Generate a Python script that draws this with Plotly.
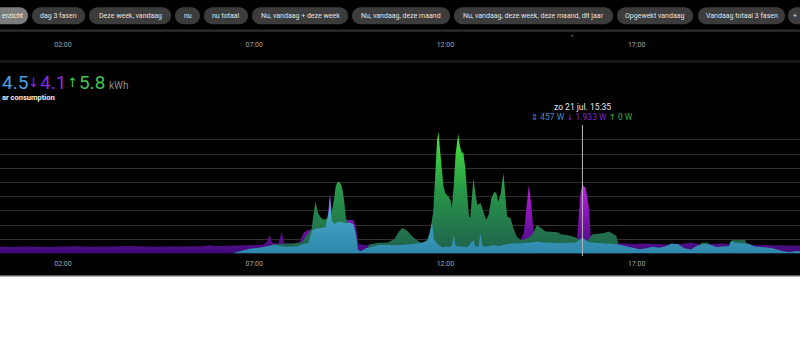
import plotly.graph_objects as go

W, H = 800, 364
DATE = "2024-07-21 "

# ---------------- data (W) ----------------
import_times = ["00:20","00:40","01:00","01:20","01:40","02:00","02:20","02:40","03:00","03:20","03:40","04:00",
                "04:20","04:40","05:00","05:20","05:40","05:50","06:00","06:20","06:40","07:00","07:15","07:20",
                "07:24","07:28","07:38","07:43","07:47","07:57","08:10","08:18","08:25","08:35","08:45","08:55",
                "08:59","09:03","09:15","09:22","09:28","09:36","09:40","09:44","09:55","10:10","10:25","10:35",
                "10:45","13:55","13:58","14:03","14:07","14:11","14:15","14:18","14:22","14:26","15:25","15:29",
                "15:32","15:35","15:40","15:45","15:48","15:51","16:00","16:35","16:55","17:10","17:30","17:50",
                "18:10","18:25","18:40","19:00","19:15","19:30","19:50","20:10","20:30","20:50","21:10","21:20"]
import_w = [195,185,200,190,180,195,205,190,185,200,210,195,
            190,200,195,190,205,235,210,215,225,240,250,330,
            520,300,280,600,300,270,280,600,660,670,700,1000,
            1680,900,880,930,950,940,700,260,240,245,230,150,
            0,0,380,577,1366,1930,1300,660,300,0,0,944,
            1704,1933,1850,1310,500,250,240,290,270,280,260,250,
            270,300,260,270,280,250,240,250,230,230,220,225]

export_times = ["06:50","07:15","07:30","07:45","08:00","08:15","08:30","08:36","08:40","08:45","08:50","08:55",
                "09:00","09:05","09:08","09:11","09:15","09:18","09:21","09:24","09:28","09:35","09:45","09:55",
                "10:00","10:15","10:30","10:40","10:47","10:53","11:00","11:08","11:15","11:22","11:30","11:36",
                "11:41","11:44","11:47","11:49","11:51","11:54","11:57","12:00","12:05","12:08","12:10","12:13",
                "12:16","12:20","12:23","12:26","12:28","12:31","12:34","12:37","12:39","12:42","12:44","12:47",
                "12:50","12:55","13:00","13:04","13:08","13:12","13:17","13:20","13:23","13:27","13:31","13:34",
                "13:37","13:42","13:47","13:52","13:58","14:05","14:15","14:24","14:30","14:37","14:45","14:56",
                "15:01","15:08","15:16","15:24","15:29","15:40","15:51","16:00","16:10","16:16","16:22","16:28",
                "16:32","16:40","18:35","18:41","18:52","19:00","19:26","19:30","19:40","19:50","20:00"]
export_w = [0,0,260,270,280,320,700,1459,1150,1000,950,1000,
            1000,1500,1900,2023,1990,1850,1500,1000,800,400,0,0,
            250,300,310,400,620,720,640,480,380,300,350,600,
            1200,2200,3200,3431,3000,2300,1882,1700,1600,1500,1282,1900,
            2800,3366,3000,2831,2850,2445,1600,1050,1000,1600,2118,1700,
            1366,1420,1150,944,1100,1550,1741,1700,1459,1700,2259,1600,
            1037,1000,700,480,380,400,500,803,720,620,610,600,
            540,521,500,450,400,300,540,560,580,620,560,500,
            240,0,0,300,310,0,0,380,370,380,0]

cons_times = ["00:20","06:25","06:40","06:55","07:10","07:20","07:30","07:40","07:50","08:05","08:15","08:25",
              "08:31","08:36","08:44","08:52","08:57","08:59","09:02","09:06","09:12","09:18","09:24","09:30",
              "09:36","09:40","09:43","09:48","09:55","10:05","10:15","10:30","10:45","11:00","11:15","11:25",
              "11:33","11:37","11:39","11:42","11:47","11:55","12:00","12:05","12:10","12:13","12:16","12:25",
              "12:35","12:44","12:47","12:52","12:55","12:58","13:05","13:15","13:25","13:35","13:45","13:55",
              "14:05","14:15","14:25","14:35","14:45","14:55","15:05","15:15","15:25","15:30","15:35","15:40",
              "15:45","15:55","16:10","16:25","16:35","16:45","16:55","17:05","17:15","17:25","17:35","17:45",
              "17:55","18:05","18:15","18:25","18:35","18:45","18:55","19:05","19:15","19:25","19:28","19:35",
              "19:45","19:55","20:05","20:15","20:25","20:35","20:42","20:50","21:00","21:10","21:20"]
cons_w = [0,0,80,140,170,200,240,220,190,200,260,300,
          650,700,718,740,1200,1600,900,830,900,880,850,870,
          820,500,100,60,150,190,240,240,230,250,270,300,
          380,700,870,400,280,170,200,180,220,520,220,200,
          180,380,200,190,570,210,200,230,210,250,290,280,
          300,320,330,300,310,290,300,290,310,380,457,380,
          320,300,290,270,240,200,180,120,150,190,160,200,
          280,260,150,110,220,270,250,180,200,210,360,300,
          290,280,200,190,170,140,100,60,40,70,60]

x_range = ["2024-07-21 00:21:09", "2024-07-21 21:16:23"]
tick_start = "2024-07-21 02:00"
tick_step_ms = 5 * 3600 * 1000

total_cons_kwh, total_import_kwh, total_export_kwh = 4.5, 4.1, 5.8
tip_time, tip_label = "15:35", "zo 21 jul. 15:35"
tip_cons, tip_import, tip_export = 457, 1933, 0

chip_labels = ["erzicht", "dag 3 fasen", "Deze week, vandaag", "nu", "nu totaal", "Nu, vandaag + deze week",
               "Nu, vandaag, deze maand", "Nu, vandaag, deze week, deze maand, dit jaar", "Opgewekt vandaag",
               "Vandaag totaal 3 fasen", "+"]
chip_edges = [(-30, 28), (32, 85), (89, 171), (175, 200), (204, 248), (252, 348), (352, 450), (454, 613),
              (617, 693), (698, 785), (788, 830)]

# ---------------- helpers ----------------
def px(x):
    return x / W

def py(y):
    return 1 - y / H

def nl(v):
    return f"{v:,}".replace(",", ".")

def pill(x0, x1, y0, y1):
    r = (y1 - y0) / 2
    k = 0.552 * r
    pts = [
        f"M {px(x0 + r)},{py(y0)}", f"L {px(x1 - r)},{py(y0)}",
        f"C {px(x1 - r + k)},{py(y0)} {px(x1)},{py(y0 + r - k)} {px(x1)},{py(y0 + r)}",
        f"C {px(x1)},{py(y0 + r + k)} {px(x1 - r + k)},{py(y1)} {px(x1 - r)},{py(y1)}",
        f"L {px(x0 + r)},{py(y1)}",
        f"C {px(x0 + r - k)},{py(y1)} {px(x0)},{py(y0 + r + k)} {px(x0)},{py(y0 + r)}",
        f"C {px(x0)},{py(y0 + r - k)} {px(x0 + r - k)},{py(y0)} {px(x0 + r)},{py(y0)}", "Z"]
    return " ".join(pts)

fig = go.Figure()

fig.add_trace(go.Scatter(
    x=[DATE + t for t in import_times], y=import_w, mode="lines", line=dict(width=0, color="#7a1fd0"),
    fill="tozeroy", fillgradient=dict(type="vertical", start=0, stop=2000,
                                      colorscale=[[0, "rgb(62,10,120)"], [1, "rgb(200,30,235)"]]),
    hoverinfo="skip"))
fig.add_trace(go.Scatter(
    x=[DATE + t for t in export_times], y=export_w, mode="lines", line=dict(width=0, color="#3ccf4a"),
    fill="tozeroy", fillgradient=dict(type="vertical", start=0, stop=3500,
                                      colorscale=[[0, "rgb(30,95,78)"], [0.5, "rgb(40,150,72)"],
                                                  [1, "rgb(70,235,60)"]]),
    hoverinfo="skip"))
fig.add_trace(go.Scatter(
    x=[DATE + t for t in cons_times], y=cons_w, mode="lines", line=dict(width=0, color="#4ab0d5"),
    fill="tozeroy", fillgradient=dict(type="vertical", start=0, stop=1600,
                                      colorscale=[[0, "rgb(45,135,170)"], [1, "rgb(80,180,212)"]]),
    hoverinfo="skip"))
# empty trace to register the top time axis
fig.add_trace(go.Scatter(x=[], y=[], xaxis="x2", yaxis="y", hoverinfo="skip"))

shapes = [
    dict(type="rect", xref="paper", yref="paper", x0=0, x1=1, y0=py(276), y1=1,
         fillcolor="#000000", line=dict(width=0), layer="below"),
    dict(type="rect", xref="paper", yref="paper", x0=0, x1=1, y0=py(277), y1=py(275.6),
         fillcolor="#b4b4b4", line=dict(width=0), layer="below"),
    dict(type="rect", xref="paper", yref="paper", x0=0, x1=1, y0=py(31.8), y1=py(29.5),
         fillcolor="#2e2e2e", line=dict(width=0), layer="below"),
    dict(type="rect", xref="paper", yref="paper", x0=0, x1=1, y0=py(63), y1=py(60),
         fillcolor="#171717", line=dict(width=0), layer="below"),
    dict(type="rect", xref="paper", yref="paper", x0=px(571.5), x1=px(573), y0=py(36.5), y1=py(35),
         fillcolor="#777777", line=dict(width=0), layer="below"),
    dict(type="line", xref="x", yref="paper", x0=DATE + tip_time, x1=DATE + tip_time,
         y0=py(256), y1=py(125), line=dict(color="#b8b8b8", width=1), layer="above"),
]
annotations = []
for i, (lab, (a, b)) in enumerate(zip(chip_labels, chip_edges)):
    shapes.append(dict(type="path", xref="paper", yref="paper", path=pill(a, b, 7.3, 24.2),
                       fillcolor="#7c7c7c" if i == 0 else "#3c3c3c", line=dict(width=0), layer="below"))
    if i == 0:
        annotations.append(dict(text=lab, xref="paper", yref="paper", x=px(0), y=py(15.8),
                                xanchor="left", yanchor="middle", showarrow=False,
                                font=dict(size=7, color="#f2f2f2", family="Roboto")))
    else:
        cx = (a + b) / 2 if b <= W else 795
        annotations.append(dict(text=lab, xref="paper", yref="paper", x=px(cx), y=py(15.8),
                                xanchor="center", yanchor="middle", showarrow=False,
                                font=dict(size=7, color="#e2e2e2", family="Roboto")))

hdr = [
    (f"{total_cons_kwh}", 0, 19, "#4aa2e2", "Roboto"),
    ("↓", 26, 13, "#8b2ae0", "DejaVu Sans"),
    (f"{total_import_kwh}", 38, 19, "#8b2ae0", "Roboto"),
    ("↑", 65, 13, "#3dc552", "DejaVu Sans"),
    (f"{total_export_kwh}", 77, 19, "#3dc552", "Roboto"),
]
for txt, x0, sz, col, fam in hdr:
    annotations.append(dict(text=txt, xref="paper", yref="paper", x=px(x0), y=py(83), xanchor="left",
                            yanchor="middle", showarrow=False,
                            font=dict(size=sz, color=col, family=fam)))
annotations.append(dict(text="kWh", xref="paper", yref="paper", x=px(107), y=py(85.5), xanchor="left",
                        yanchor="middle", showarrow=False, font=dict(size=10, color="#8a8a8a", family="Roboto")))
annotations.append(dict(text="<b>ar consumption</b>", xref="paper", yref="paper", x=px(0), y=py(97.5),
                        xanchor="left", yanchor="middle", showarrow=False,
                        font=dict(size=7.5, color="#f0f0f0", family="Roboto")))
annotations.append(dict(text=tip_label, xref="x", yref="paper", x=DATE + tip_time, y=py(106.5),
                        xanchor="center", yanchor="middle", showarrow=False,
                        font=dict(size=8.5, color="#e8e8e8", family="Roboto")))
arr = '<span style="font-family:DejaVu Sans">{}</span>'
annotations.append(dict(
    text=(f'<span style="color:#4a8bd0">{arr.format("⇕")} {nl(tip_cons)} W</span> '
          f'<span style="color:#7b2ad0">{arr.format("↓")} {nl(tip_import)} W</span> '
          f'<span style="color:#2fb04a">{arr.format("↑")} {nl(tip_export)} W</span>'),
    xref="x", yref="paper", x=DATE + tip_time, y=py(117), xanchor="center", yanchor="middle",
    showarrow=False, font=dict(size=8.5, family="Roboto")))

axis_common = dict(type="date", range=x_range, tick0=tick_start, dtick=tick_step_ms, tickformat="%H:%M",
                   showgrid=False, zeroline=False, showline=False, ticks="",
                   tickfont=dict(size=7, color="#a8a8a8", family="Roboto"), fixedrange=True)

fig.update_layout(
    width=W, height=H, margin=dict(l=0, r=0, t=0, b=0),
    paper_bgcolor="#ffffff", plot_bgcolor="rgba(0,0,0,0)", showlegend=False,
    font=dict(family="Roboto"), hovermode=False,
    xaxis=dict(domain=[0, 1], anchor="y", ticklabelstandoff=4, **axis_common),
    xaxis2=dict(overlaying="x", anchor="free", position=py(39), **axis_common),
    yaxis=dict(domain=[py(253.5), py(125.7)], range=[0, 3600], dtick=400, showgrid=True,
               gridcolor="#303030", gridwidth=1, zeroline=False, showticklabels=False, ticks="",
               fixedrange=True),
    shapes=shapes, annotations=annotations,
)

fig.write_html("out.html", config={"displayModeBar": False},
               post_script="document.body.style.margin='0';document.body.style.padding='0';")
